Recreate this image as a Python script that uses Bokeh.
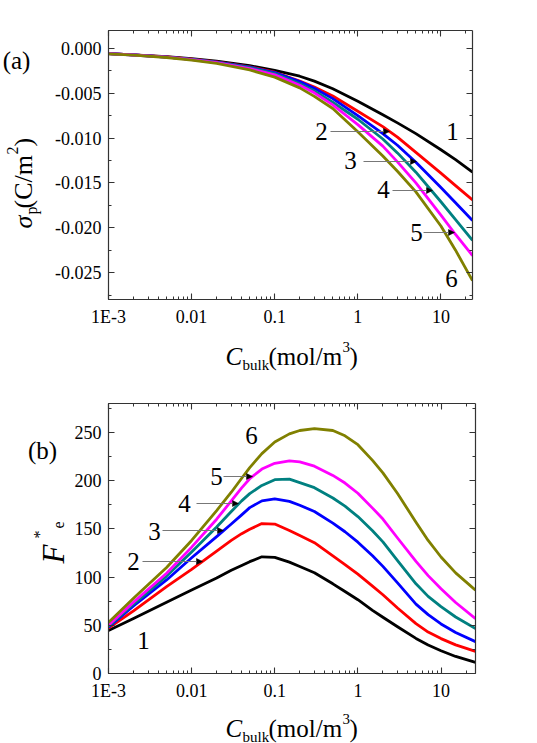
from bokeh.plotting import figure
from bokeh.layouts import column, row
from bokeh.models import (Range1d, LinearAxis, LogAxis, LogTicker, SingleIntervalTicker,
                          NumeralTickFormatter, BasicTickFormatter, CustomJSTickFormatter,
                          Label, Arrow, NormalHead)
from bokeh.core.properties import value
from bokeh.embed import file_html
from bokeh.resources import INLINE

# ---------------- data ----------------
# panel (a): surface charge density sigma_p (C/m^2) vs C_bulk (mol/m^3)
conc_a = [0.001, 0.002, 0.005, 0.01, 0.02, 0.05, 0.1, 0.2, 0.3, 0.5, 1, 2, 3, 5, 10, 15, 24]
sigma_1 = [-0.00058, -0.00071, -0.00093, -0.00115, -0.00142, -0.00192, -0.00245, -0.00310,
           -0.00365, -0.00450, -0.00590, -0.00740, -0.00830, -0.00950, -0.01130, -0.01240,
           -0.01380]
sigma_2 = [-0.00058, -0.00072, -0.00095, -0.00120, -0.00150, -0.00205, -0.00265, -0.00365,
           -0.00430, -0.00530, -0.00700, -0.00872, -0.00990, -0.01160, -0.01390, -0.01530,
           -0.01690]
sigma_3 = [-0.00058, -0.00072, -0.00096, -0.00121, -0.00152, -0.00209, -0.00270, -0.00370,
           -0.00445, -0.00560, -0.00750, -0.00950, -0.01080, -0.01270, -0.01550, -0.01720,
           -0.01920]
sigma_4 = [-0.00058, -0.00073, -0.00097, -0.00123, -0.00155, -0.00214, -0.00280, -0.00395,
           -0.00475, -0.00600, -0.00790, -0.01010, -0.01165, -0.01380, -0.01710, -0.01910,
           -0.02140]
sigma_5 = [-0.00058, -0.00073, -0.00098, -0.00125, -0.00158, -0.00225, -0.00295, -0.00410,
           -0.00495, -0.00630, -0.00850, -0.01090, -0.01265, -0.01500, -0.01860, -0.02075,
           -0.02310]
sigma_6 = [-0.00060, -0.00075, -0.00101, -0.00130, -0.00166, -0.00240, -0.00320, -0.00440,
           -0.00535, -0.00670, -0.00930, -0.01200, -0.01370, -0.01600, -0.01980, -0.02250,
           -0.02590]

# panel (b): F*_e vs C_bulk (mol/m^3)
conc_b = [0.001, 0.002, 0.005, 0.01, 0.02, 0.03, 0.04, 0.05, 0.07, 0.1, 0.15, 0.2, 0.3,
          0.5, 0.7, 1, 1.5, 2, 3, 5, 7, 10, 15, 26]
fe_1 = [44.5, 57, 74, 86.5, 99, 107, 112, 116, 121, 120.5, 115.5, 111, 104.5,
        93, 85, 76.5, 65.5, 58.3, 48.5, 36.4, 29.5, 23.6, 17.7, 11.5]
fe_2 = [47, 65, 90, 108, 127, 138, 145, 149.5, 155.5, 155, 148.3, 143, 135.7,
        122, 113, 103, 90.7, 81.7, 67.9, 51.7, 43, 36.2, 29.7, 23]
fe_3 = [48, 70, 97, 120, 142, 155, 164.5, 172, 179, 181, 178.5, 174.5, 168,
        156, 147, 136.2, 122.1, 111.1, 94, 72, 61, 51.4, 42.5, 33]
fe_4 = [49, 72, 101, 126, 152, 168, 179, 186.5, 195, 201, 201.5, 198, 192.7,
        182, 173.5, 162.7, 148, 136.5, 117, 93, 80, 69.3, 58.6, 46.5]
fe_5 = [50, 74, 104, 131, 160, 179, 192.5, 202, 212, 218, 220.5, 219.5, 215,
        205.4, 197.5, 186.9, 171.5, 160.2, 140.5, 116.2, 101.5, 87.8, 73.6, 57]
fe_6 = [53, 78, 110, 138, 169, 188, 202.5, 213.5, 228, 240, 248.5, 252, 254,
        252, 246.5, 237.3, 221, 208, 186.7, 156.8, 138, 120.8, 104.4, 86.5]

curve_names = ["1", "2", "3", "4", "5", "6"]
colors = ["#000000", "#ff0000", "#0000ff", "#008080", "#ff00ff", "#808000"]

FONT = "Liberation Serif"
AX_COLOR = "#333333"


def style_axis(ax, show_labels=True):
    ax.axis_line_color = AX_COLOR
    ax.axis_line_width = 1.2
    ax.major_tick_line_color = AX_COLOR
    ax.minor_tick_line_color = AX_COLOR
    ax.major_tick_line_width = 1.1
    ax.minor_tick_line_width = 1.0
    ax.major_tick_in = 6
    ax.major_tick_out = 0
    ax.minor_tick_in = 3
    ax.minor_tick_out = 0
    ax.major_label_text_font = FONT
    ax.major_label_text_font_size = "18px"
    ax.major_label_text_color = "black"
    ax.major_label_standoff = 7 if show_labels else 0
    if not show_labels:
        ax.formatter = CustomJSTickFormatter(code="return '';")


x_fmt_code = "return tick < 0.005 ? '1E-3' : String(tick);"


def make_fig(width, height, yrange, xmax, left, top, bottom, right, y_interval, y_fmt):
    p = figure(width=width, height=height, x_axis_type="log", title=None,
               x_range=Range1d(0.001, xmax), y_range=Range1d(*yrange),
               output_backend="svg", toolbar_location=None, frame_align=False,
               min_border_left=left, min_border_right=right,
               min_border_top=top, min_border_bottom=bottom)
    p.xgrid.visible = False
    p.ygrid.visible = False
    p.outline_line_color = None
    p.background_fill_color = "white"
    p.border_fill_color = "white"

    xa = p.xaxis[0]
    xa.ticker = LogTicker(num_minor_ticks=10)
    xa.formatter = CustomJSTickFormatter(code=x_fmt_code)
    style_axis(xa)

    ya = p.yaxis[0]
    ya.ticker = SingleIntervalTicker(interval=y_interval, num_minor_ticks=2)
    ya.formatter = y_fmt
    style_axis(ya)

    xt = LogAxis(ticker=LogTicker(num_minor_ticks=10))
    style_axis(xt, show_labels=False)
    p.add_layout(xt, "above")
    yr = LinearAxis(ticker=SingleIntervalTicker(interval=y_interval, num_minor_ticks=2))
    style_axis(yr, show_labels=False)
    p.add_layout(yr, "right")
    return p


def label_fig(w, h):
    """A blank figure whose data units equal pixels (y downward), used for axis titles."""
    f = figure(width=w, height=h, x_range=Range1d(0, w), y_range=Range1d(h, 0),
               title=None, output_backend="svg", toolbar_location=None, min_border=0,
               frame_align=False, x_axis_location=None, y_axis_location=None)
    f.xgrid.visible = False
    f.ygrid.visible = False
    f.outline_line_color = None
    f.background_fill_color = "white"
    f.border_fill_color = "white"
    return f


def put(f, text, X, Y, size, italic=False, angle=0.0, align="left", baseline="alphabetic"):
    f.text(x=[X], y=[Y], text=[text], text_font=value(FONT),
           text_font_size=value(f"{size}px"),
           text_font_style=value("italic" if italic else "normal"),
           text_color="black", angle=angle, text_align=align, text_baseline=baseline)


def add_text(p, text, X, Y, fl, fb, size):
    """Curve number inside a frame; X, Y page pixels, fl/fb frame left/bottom on the page."""
    p.add_layout(Label(x=X - fl, y=fb - Y, x_units="screen", y_units="screen",
                       text=text, text_font=FONT, text_font_size=f"{size}px",
                       text_color="black", text_align="center", text_baseline="middle"))


def add_arrow(p, X0, X1, Y, fl, fb):
    p.add_layout(Arrow(end=NormalHead(size=6, fill_color="black", line_color="black",
                                      line_width=0.5),
                       x_start=X0 - fl, y_start=fb - Y, x_end=X1 - fl, y_end=fb - Y,
                       start_units="screen", end_units="screen",
                       line_color="#777777", line_width=1))


ROT = 1.5707963267948966

# ---------------- panel (a) ----------------
p1 = make_fig(485, 330, (-0.028, 0.002), 24, left=56, top=30, bottom=31, right=65,
              y_interval=0.005, y_fmt=NumeralTickFormatter(format="0.000"))
for ys, c in zip([sigma_1, sigma_2, sigma_3, sigma_4, sigma_5, sigma_6], colors):
    p1.line(conc_a, ys, line_color=c, line_width=2.8, line_join="round")

FL, FB = 108, 299
for name, (X, Y) in zip(curve_names, [(452, 131), (321, 131), (350, 160),
                                       (383, 189), (416, 232), (451, 278)]):
    add_text(p1, name, X, Y, FL, FB, 25)
for X0, X1, Y in [(330, 389, 131), (363, 416, 161), (392, 432, 190), (423, 454, 232)]:
    add_arrow(p1, X0, X1, Y, FL, FB)

# left strip of panel (a): "(a)" and the y-axis title  sigma_p(C/m^2)
ya_fig = label_fig(52, 330)
put(ya_fig, "(a)", 16, 60, 25, align="center", baseline="middle")
put(ya_fig, "σ", 23, 228, 26, italic=True, angle=ROT)
put(ya_fig, "p", 31, 214, 16, angle=ROT)
put(ya_fig, "(C/m", 23, 208, 26, angle=ROT)
put(ya_fig, "2", 12, 154, 16, angle=ROT)
put(ya_fig, ")", 23, 146, 26, angle=ROT)

# strip below panel (a): x-axis title  C_bulk(mol/m^3)
xa_fig = label_fig(537, 42)
put(xa_fig, "C", 225, 26, 25, italic=True)
put(xa_fig, "bulk", 242, 34, 15)
put(xa_fig, "(mol/m", 268, 26, 25)
put(xa_fig, "3", 342, 16, 15)
put(xa_fig, ")", 349, 26, 25)

# ---------------- panel (b) ----------------
p2 = make_fig(467, 331, (0, 280), 26, left=38, top=31, bottom=30, right=62,
              y_interval=50, y_fmt=BasicTickFormatter())
for ys, c in zip([fe_1, fe_2, fe_3, fe_4, fe_5, fe_6], colors):
    p2.line(conc_b, ys, line_color=c, line_width=2.8, line_join="round")

FL2, FB2 = 108, 673
for name, (X, Y) in zip(curve_names, [(143, 640), (133, 561), (154, 531),
                                       (184, 503), (216, 476), (251, 435)]):
    add_text(p2, name, X, Y, FL2, FB2, 25)
for X0, X1, Y in [(142, 202, 561), (162, 223, 530), (196, 238, 503), (223, 252, 476)]:
    add_arrow(p2, X0, X1, Y, FL2, FB2)

# left strip of panel (b): "(b)" and the y-axis title  F*_e   (page y minus 372)
yb_fig = label_fig(70, 331)
put(yb_fig, "(b)", 42, 78, 25, align="center", baseline="middle")
put(yb_fig, "F", 53, 191, 31, italic=True, angle=ROT)
put(yb_fig, "*", 39, 166, 16, angle=ROT)
put(yb_fig, "e", 58, 156, 16, angle=ROT)

# strip below panel (b): x-axis title
xb_fig = label_fig(537, 40)
put(xb_fig, "C", 225, 25, 25, italic=True)
put(xb_fig, "bulk", 242, 33, 15)
put(xb_fig, "(mol/m", 268, 25, 25)
put(xb_fig, "3", 342, 15, 15)
put(xb_fig, ")", 349, 25, 25)

layout = column(row(ya_fig, p1), xa_fig, row(yb_fig, p2), xb_fig)
open("out.html", "w").write(file_html(layout, INLINE))
